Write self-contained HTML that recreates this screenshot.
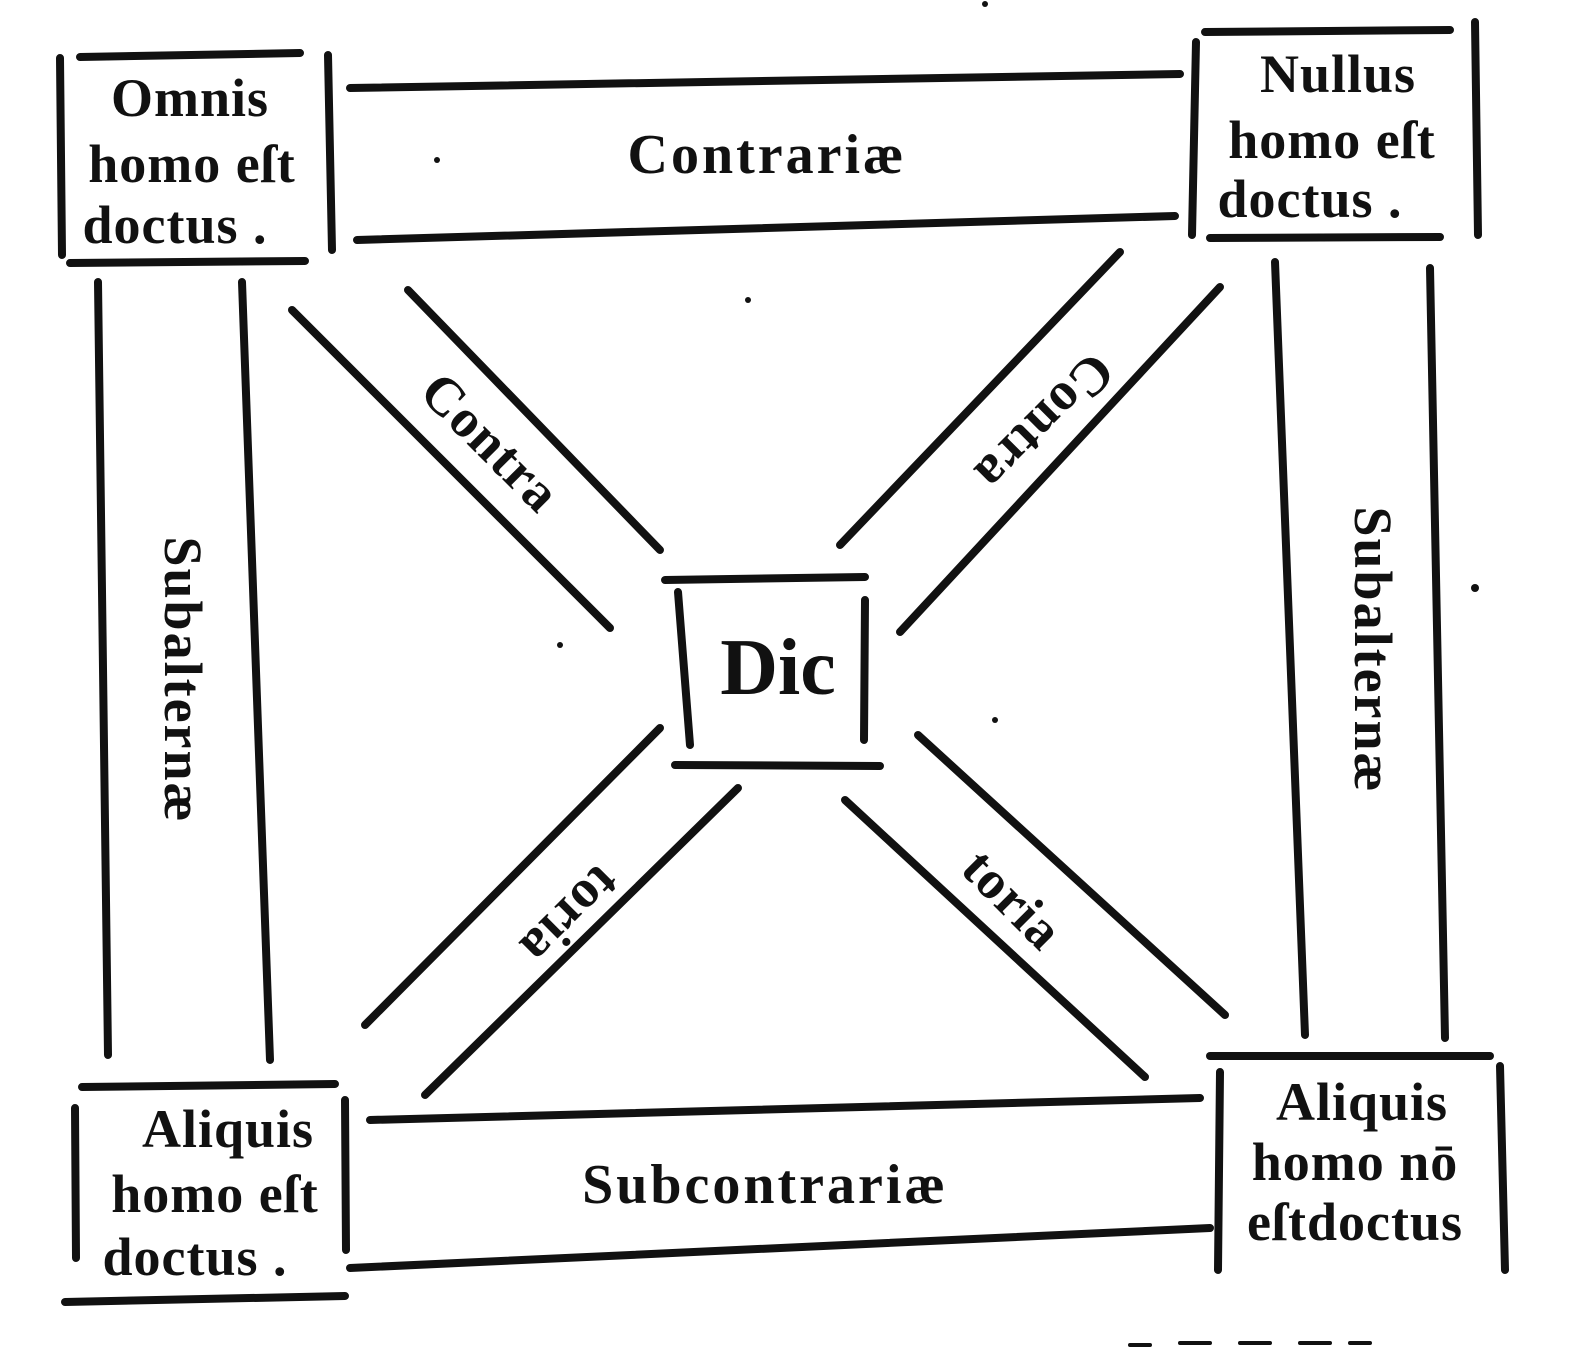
<!DOCTYPE html>
<html><head><meta charset="utf-8"><style>
html,body{margin:0;padding:0;background:#fff;}
svg{display:block;}
text{font-family:"Liberation Serif",serif;font-weight:bold;fill:#111;}
</style></head><body>
<svg width="1572" height="1354" viewBox="0 0 1572 1354" xmlns="http://www.w3.org/2000/svg">
<g stroke="#111" stroke-width="8" stroke-linecap="round" fill="none">
<line x1="60" y1="58" x2="62" y2="255"/>
<line x1="328" y1="55" x2="332" y2="250"/>
<line x1="80" y1="57" x2="300" y2="53"/>
<line x1="70" y1="263" x2="305" y2="261"/>
<line x1="1196" y1="42" x2="1192" y2="235"/>
<line x1="1475" y1="22" x2="1478" y2="235"/>
<line x1="1205" y1="32" x2="1450" y2="30"/>
<line x1="1210" y1="238" x2="1440" y2="237"/>
<line x1="350" y1="88" x2="1180" y2="74"/>
<line x1="357" y1="240" x2="1175" y2="216"/>
<line x1="98" y1="282" x2="108" y2="1055"/>
<line x1="242" y1="282" x2="270" y2="1060"/>
<line x1="1275" y1="262" x2="1305" y2="1035"/>
<line x1="1430" y1="268" x2="1445" y2="1038"/>
<line x1="75" y1="1108" x2="76" y2="1258"/>
<line x1="345" y1="1100" x2="346" y2="1250"/>
<line x1="82" y1="1087" x2="335" y2="1084"/>
<line x1="65" y1="1302" x2="345" y2="1296"/>
<line x1="1220" y1="1072" x2="1218" y2="1270"/>
<line x1="1500" y1="1066" x2="1505" y2="1270"/>
<line x1="1210" y1="1056" x2="1490" y2="1056"/>
<line x1="370" y1="1120" x2="1200" y2="1098"/>
<line x1="350" y1="1268" x2="1210" y2="1228"/>
<line x1="665" y1="580" x2="865" y2="577"/>
<line x1="678" y1="592" x2="690" y2="745"/>
<line x1="865" y1="600" x2="864" y2="740"/>
<line x1="675" y1="765" x2="880" y2="766"/>
<line x1="292" y1="310" x2="610" y2="628"/>
<line x1="408" y1="290" x2="660" y2="550"/>
<line x1="1120" y1="252" x2="840" y2="545"/>
<line x1="1220" y1="287" x2="900" y2="632"/>
<line x1="660" y1="728" x2="365" y2="1025"/>
<line x1="738" y1="788" x2="425" y2="1095"/>
<line x1="918" y1="735" x2="1225" y2="1015"/>
<line x1="845" y1="800" x2="1145" y2="1077"/>
<line x1="1130" y1="1345" x2="1150" y2="1345" stroke-width="4"/>
<line x1="1180" y1="1343" x2="1210" y2="1343" stroke-width="4"/>
<line x1="1240" y1="1343" x2="1270" y2="1343" stroke-width="4"/>
<line x1="1300" y1="1343" x2="1330" y2="1343" stroke-width="4"/>
<line x1="1350" y1="1343" x2="1370" y2="1343" stroke-width="4"/>
</g>
<g fill="#111">
<circle cx="985" cy="4" r="3"/><circle cx="437" cy="160" r="3"/>
<circle cx="1475" cy="588" r="4"/><circle cx="560" cy="645" r="3"/>
<circle cx="995" cy="720" r="3"/><circle cx="748" cy="300" r="3"/>
</g>
<g font-size="54" letter-spacing="1">
<text x="190" y="116" text-anchor="middle">Omnis</text>
<text x="192" y="182" text-anchor="middle">homo eſt</text>
<text x="175" y="243" text-anchor="middle">doctus .</text>
<text x="1338" y="92" text-anchor="middle">Nullus</text>
<text x="1332" y="158" text-anchor="middle">homo eſt</text>
<text x="1310" y="217" text-anchor="middle">doctus .</text>
<text x="228" y="1147" text-anchor="middle">Aliquis</text>
<text x="215" y="1212" text-anchor="middle">homo eſt</text>
<text x="195" y="1275" text-anchor="middle">doctus .</text>
<text x="1362" y="1120" text-anchor="middle">Aliquis</text>
<text x="1355" y="1180" text-anchor="middle">homo nō</text>
<text x="1355" y="1240" text-anchor="middle">eſtdoctus</text>
</g>
<text x="767" y="173" font-size="56" letter-spacing="3" text-anchor="middle">Contrariæ</text>
<text x="765" y="1203" font-size="56" letter-spacing="3" text-anchor="middle">Subcontrariæ</text>
<text x="778" y="694" font-size="80" text-anchor="middle">Dic</text>
<text font-size="54" letter-spacing="2" text-anchor="middle" transform="translate(165,680) rotate(90)">Subalternæ</text>
<text font-size="54" letter-spacing="2" text-anchor="middle" transform="translate(1355,650) rotate(90)">Subalternæ</text>
<text font-size="54" letter-spacing="1" text-anchor="middle" transform="translate(478,455) rotate(45)">Contra</text>
<text font-size="54" letter-spacing="1" text-anchor="middle" transform="translate(1032,410) rotate(135)">Contra</text>
<text font-size="54" letter-spacing="1" text-anchor="middle" transform="translate(558,903) rotate(135)">toria</text>
<text font-size="54" letter-spacing="1" text-anchor="middle" transform="translate(1000,912) rotate(45)">toria</text>
</svg>
</body></html>
